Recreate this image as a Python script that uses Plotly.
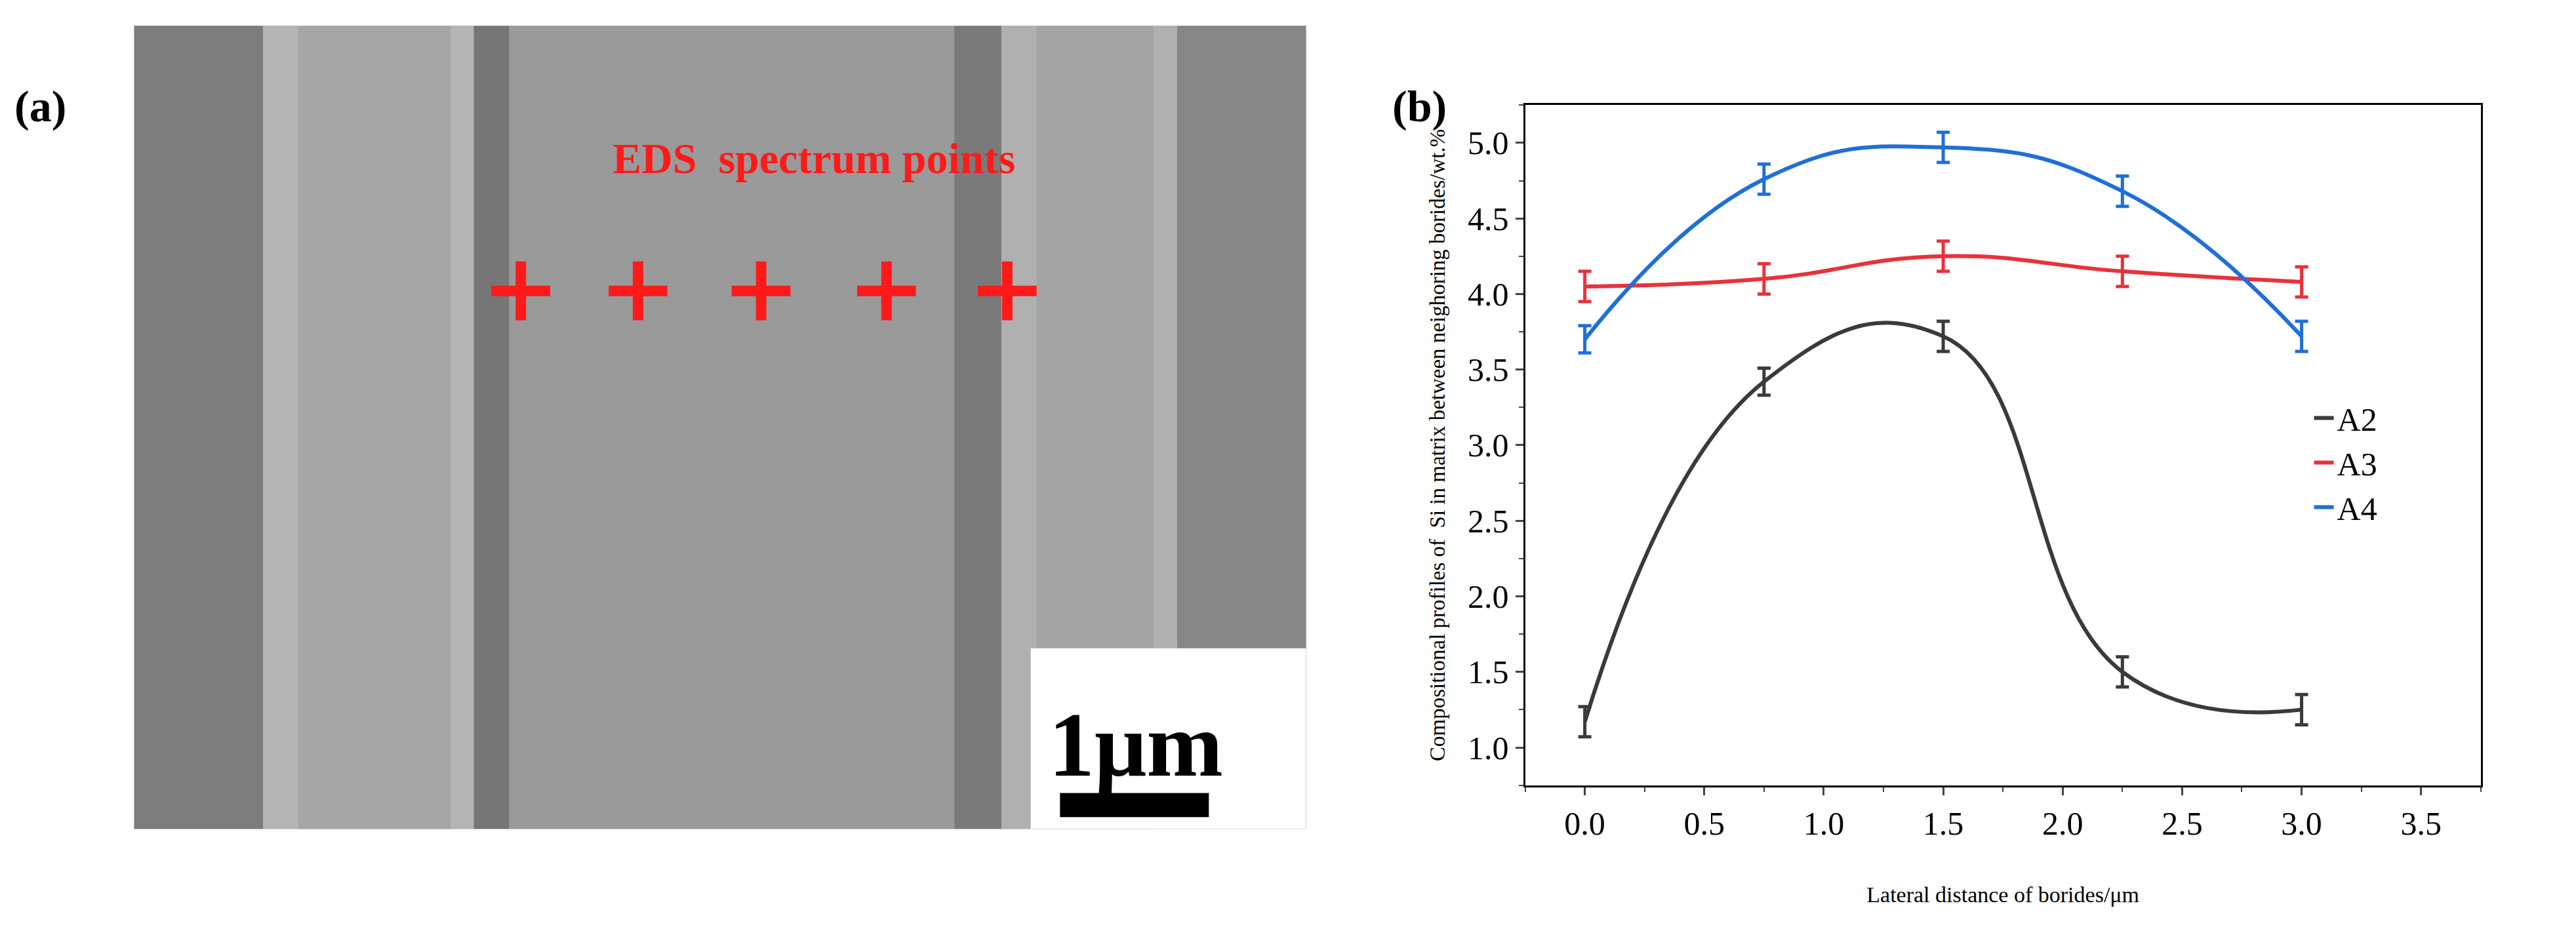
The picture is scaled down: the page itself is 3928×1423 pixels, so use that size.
import plotly.graph_objects as go

# panel (b) data
dist = [0.0, 0.75, 1.5, 2.25, 3.0]
a2 = [1.17, 3.42, 3.72, 1.50, 1.25]
a3 = [4.05, 4.10, 4.25, 4.15, 4.08]
a4 = [3.70, 4.76, 4.97, 4.68, 3.72]
err_a2 = [0.10, 0.09, 0.10, 0.10, 0.10]
err_a3 = [0.10, 0.10, 0.10, 0.10, 0.10]
err_a4 = [0.09, 0.10, 0.10, 0.10, 0.10]

# panel (a) EDS point positions (fraction of image)
eds_x = [0.33, 0.43, 0.535, 0.642, 0.745]
eds_y = [0.67, 0.67, 0.67, 0.67, 0.67]

FONT = "Liberation Serif"
fig = go.Figure()

series = [("A2", a2, err_a2, "#3a3a3a"), ("A3", a3, err_a3, "#e8323a"), ("A4", a4, err_a4, "#1f6fd8")]
for name, y, e, c in series:
    fig.add_trace(go.Scatter(
        x=dist, y=y, name=name, mode="lines",
        line=dict(color=c, width=6, shape="spline", smoothing=1.3),
        error_y=dict(type="data", array=e, color=c, thickness=5, width=10),
        xaxis="x", yaxis="y"
    ))

# SEM image stand-in: grey bands
bands = [
    (0.0, 1.0, "#8c8c8c"),
    (0.0, 0.11, "#7c7c7c"),
    (0.11, 0.29, "#b4b4b4"),
    (0.14, 0.27, "#a6a6a6"),
    (0.29, 0.32, "#767676"),
    (0.32, 0.70, "#9a9a9a"),
    (0.70, 0.74, "#7a7a7a"),
    (0.74, 0.89, "#b0b0b0"),
    (0.77, 0.87, "#a4a4a4"),
    (0.89, 1.0, "#868686"),
]
shapes = []
for x0, x1, c in bands:
    shapes.append(dict(type="rect", xref="x2", yref="y2", x0=x0, x1=x1, y0=0, y1=1,
                       fillcolor=c, line=dict(width=0), layer="below"))
shapes.append(dict(type="rect", xref="x2", yref="y2", x0=0.765, x1=1.0, y0=0, y1=0.225,
                   fillcolor="white", line=dict(width=0)))
shapes.append(dict(type="rect", xref="x2", yref="y2", x0=0.79, x1=0.917, y0=0.015, y1=0.045,
                   fillcolor="black", line=dict(width=0)))

fig.add_trace(go.Scatter(
    x=eds_x, y=eds_y, mode="markers", showlegend=False,
    marker=dict(symbol="cross-thin", size=64, color="#ff1a1a", line=dict(width=16, color="#ff1a1a")),
    xaxis="x2", yaxis="y2"
))

fig.update_layout(
    width=3928, height=1423,
    margin=dict(l=0, r=0, t=0, b=0),
    paper_bgcolor="white", plot_bgcolor="white",
    font=dict(family=FONT, color="black"),
    shapes=shapes,
    xaxis=dict(domain=[0.59, 0.961], range=[-0.25, 3.75], tickvals=[0, 0.5, 1, 1.5, 2, 2.5, 3, 3.5],
               ticktext=["0.0", "0.5", "1.0", "1.5", "2.0", "2.5", "3.0", "3.5"],
               showline=True, mirror=True, linecolor="black", linewidth=3, showgrid=False, zeroline=False,
               ticks="outside", tickwidth=3, ticklen=12, tickfont=dict(size=50),
               minor=dict(ticks="outside", ticklen=7, tickwidth=2, dtick=0.25),
               title=dict(text="Lateral distance of borides/μm", font=dict(size=34), standoff=70)),
    yaxis=dict(domain=[0.164, 0.893], range=[0.75, 5.25], tickvals=[1, 1.5, 2, 2.5, 3, 3.5, 4, 4.5, 5],
               ticktext=["1.0", "1.5", "2.0", "2.5", "3.0", "3.5", "4.0", "4.5", "5.0"],
               showline=True, mirror=True, linecolor="black", linewidth=3, showgrid=False, zeroline=False,
               ticks="outside", tickwidth=3, ticklen=12, tickfont=dict(size=50),
               minor=dict(ticks="outside", ticklen=7, tickwidth=2, dtick=0.25),
               title=dict(text="Compositional profiles of  Si in matrix between neighoring borides/wt.%",
                          font=dict(size=33), standoff=25)),
    xaxis2=dict(domain=[0.05, 0.505], range=[0, 1], visible=False),
    yaxis2=dict(domain=[0.117, 0.978], range=[0, 1], visible=False),
    legend=dict(x=0.895, y=0.585, xanchor="left", yanchor="top", bgcolor="rgba(0,0,0,0)",
                font=dict(size=50), tracegroupgap=0),
    annotations=[
        dict(text="<b>(a)</b>", x=0.003, y=0.92, xref="paper", yref="paper", xanchor="left",
             showarrow=False, font=dict(size=68, family=FONT)),
        dict(text="<b>(b)</b>", x=0.538, y=0.92, xref="paper", yref="paper", xanchor="left",
             showarrow=False, font=dict(size=68, family=FONT)),
        dict(text="<b>EDS  spectrum points</b>", x=0.58, y=0.835, xref="x2", yref="y2",
             showarrow=False, font=dict(size=66, color="#ff1a1a", family=FONT)),
        dict(text="<b>1μm</b>", x=0.855, y=0.04, xref="x2", yref="y2", yanchor="bottom",
             showarrow=False, font=dict(size=140, color="black", family=FONT)),
    ],
)

fig.write_html("out.html")
